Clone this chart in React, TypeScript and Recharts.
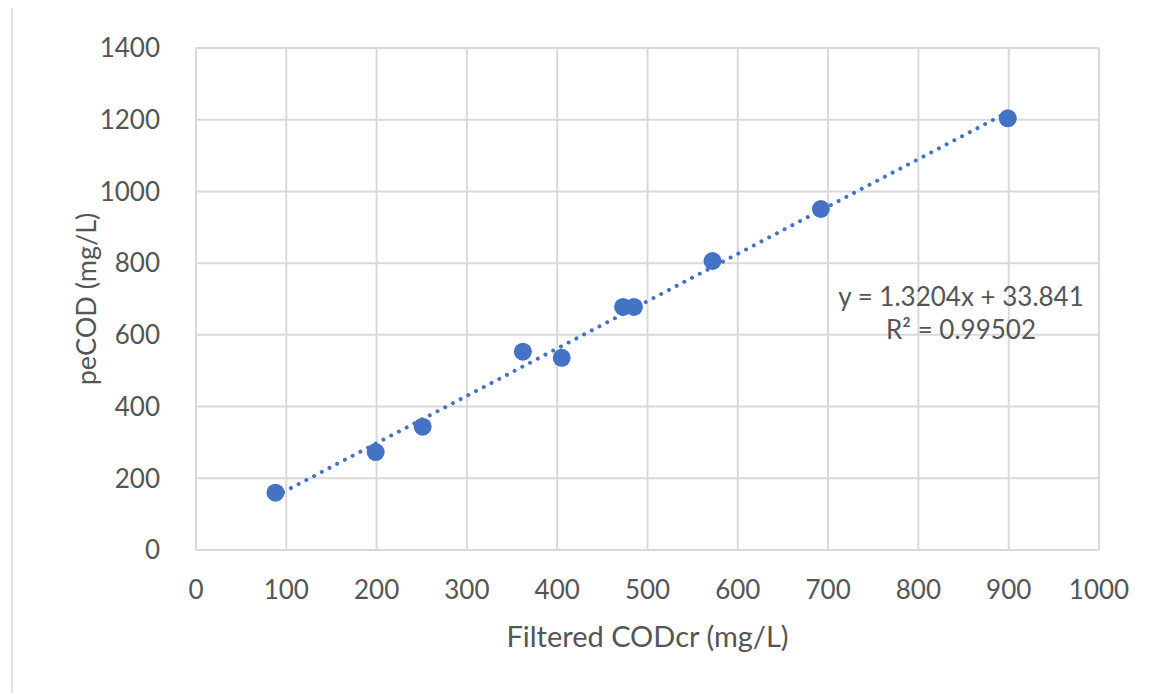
import React from 'react';
import {
  ComposedChart,
  Scatter,
  Line,
  XAxis,
  YAxis,
  CartesianGrid,
  Label,
} from 'recharts';

const xValues = [88, 199, 251, 362, 405, 473, 485, 572, 692, 899];
const yValues = [160, 273, 344, 553, 536, 678, 678, 806, 951, 1204];
const xTicks = [0, 100, 200, 300, 400, 500, 600, 700, 800, 900, 1000];
const yTicks = [0, 200, 400, 600, 800, 1000, 1200, 1400];
const slope = 1.3204;
const intercept = 33.841;
const r2 = 0.99502;

const points = xValues.map((x, i) => ({ x, y: yValues[i] }));
const xMin = Math.min(...xValues);
const xMax = Math.max(...xValues);
const trend = [
  { x: xMin, t: slope * xMin + intercept },
  { x: xMax, t: slope * xMax + intercept },
];

const FONT = 'Lato, "Open Sans", sans-serif';
const TEXT = '#555555';
const GRID = '#d9d9d9';
const BLUE = '#4472c4';

export default function App() {
  return (
    <div
      style={{
        position: 'relative',
        width: 1171,
        height: 693,
        marginLeft: -8,
        marginTop: -8,
        overflow: 'hidden',
        background: '#fff',
        fontFamily: FONT,
      }}
    >
      <div
        style={{
          position: 'absolute',
          left: 11,
          top: 5,
          width: 1155,
          height: 720,
          border: '2px solid #e3e3e3',
        }}
      />
      <div style={{ position: 'absolute', left: 0, top: 0 }}>
        <ComposedChart
          width={1171}
          height={693}
          margin={{ top: 48, right: 72, bottom: 83, left: 0 }}
        >
          <CartesianGrid stroke={GRID} strokeWidth={2} />
          <XAxis
            dataKey="x"
            type="number"
            domain={[0, 1000]}
            ticks={xTicks}
            interval={0}
            height={60}
            tickLine={false}
            axisLine={{ stroke: GRID, strokeWidth: 2 }}
            tickMargin={25}
            tick={{ fill: TEXT, fontSize: 26, fontFamily: FONT }}
          >
            <Label
              value="Filtered CODcr (mg/L)"
              position="bottom"
              offset={16}
              style={{ fill: TEXT, fontSize: 29, fontFamily: FONT }}
            />
          </XAxis>
          <YAxis
            type="number"
            domain={[0, 1400]}
            ticks={yTicks}
            interval={0}
            width={196}
            tickLine={false}
            axisLine={false}
            tickMargin={30}
            tick={{ fill: TEXT, fontSize: 26, fontFamily: FONT }}
          >
            <Label
              value="peCOD (mg/L)"
              angle={-90}
              position="insideLeft"
              offset={86}
              style={{ fill: TEXT, fontSize: 27, fontFamily: FONT, textAnchor: 'middle' }}
            />
          </YAxis>
          <Line
            data={trend}
            dataKey="t"
            type="linear"
            stroke={BLUE}
            strokeWidth={4}
            strokeDasharray="0.01 8.7"
            strokeLinecap="round"
            dot={false}
            activeDot={false}
            isAnimationActive={false}
          />
          <Scatter
            data={points}
            dataKey="y"
            fill={BLUE}
            isAnimationActive={false}
            shape={(p: any) => <circle cx={p.cx} cy={p.cy} r={9} fill={BLUE} />}
          />
        </ComposedChart>
      </div>
      <div
        style={{
          position: 'absolute',
          left: 830,
          top: 280,
          width: 262,
          textAlign: 'center',
          color: TEXT,
          fontSize: 26,
          lineHeight: '33px',
          fontFamily: FONT,
        }}
      >
        <div>{`y = ${slope}x + ${intercept}`}</div>
        <div>{`R² = ${r2}`}</div>
      </div>
    </div>
  );
}
